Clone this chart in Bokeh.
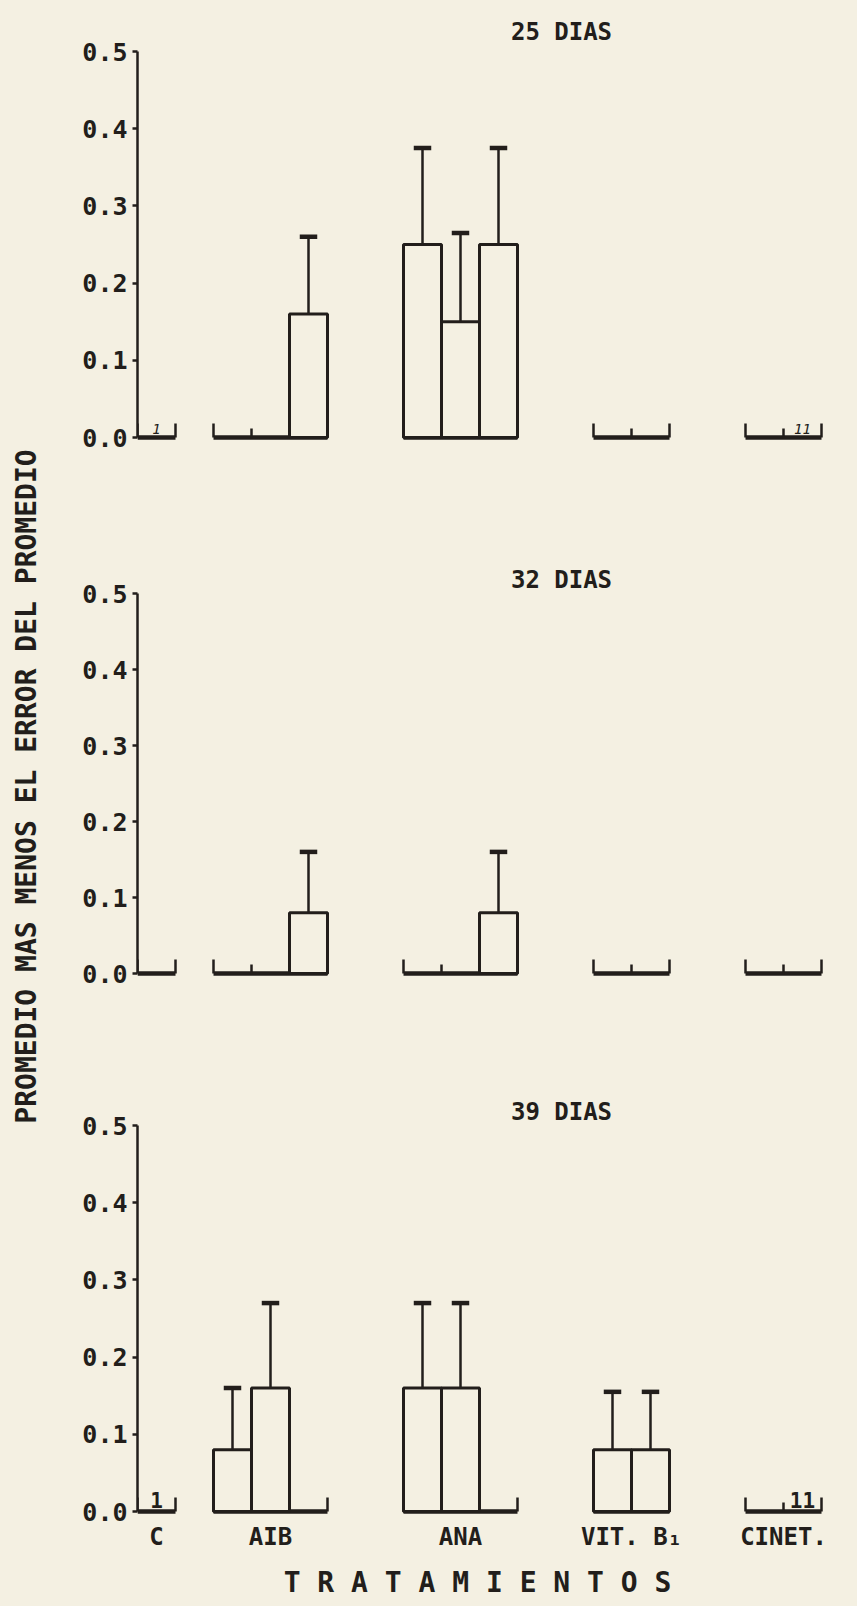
import math

from bokeh.plotting import figure
from bokeh.layouts import column, row
from bokeh.models import Range1d, FixedTicker, NumeralTickFormatter
from bokeh.core.properties import value
from bokeh.embed import file_html
from bokeh.resources import INLINE

# ---------------------------------------------------------------- data
panel_titles = ["25 DIAS", "32 DIAS", "39 DIAS"]

groups = ["C", "AIB", "ANA", "VIT. B\u2081", "CINET."]
group_size = [1, 3, 3, 2, 2]

# bar means, in order: C | AIB x3 | ANA x3 | VIT. B1 x2 | CINET. x2
mean_25 = [0.0, 0.0, 0.0, 0.16, 0.25, 0.15, 0.25, 0.0, 0.0, 0.0, 0.0]
err_25 = [0.0, 0.0, 0.0, 0.10, 0.125, 0.115, 0.125, 0.0, 0.0, 0.0, 0.0]

mean_32 = [0.0, 0.0, 0.0, 0.08, 0.0, 0.0, 0.08, 0.0, 0.0, 0.0, 0.0]
err_32 = [0.0, 0.0, 0.0, 0.08, 0.0, 0.0, 0.08, 0.0, 0.0, 0.0, 0.0]

mean_39 = [0.0, 0.08, 0.16, 0.0, 0.16, 0.16, 0.0, 0.08, 0.08, 0.0, 0.0]
err_39 = [0.0, 0.08, 0.11, 0.0, 0.11, 0.11, 0.0, 0.075, 0.075, 0.0, 0.0]

# hand-written counts beside some bars: bar index -> text
notes_25 = {0: "1", 10: "11"}
notes_32 = {}
notes_39 = {0: "1", 10: "11"}

y_ticks = [0.0, 0.1, 0.2, 0.3, 0.4, 0.5]

y_title = "PROMEDIO MAS MENOS EL ERROR DEL PROMEDIO"
x_title = "T R A T A M I E N T O S"

# ---------------------------------------------------------------- layout
PAPER = "#f4f0e2"
INK = "#221e1b"
FONT = "DejaVu Sans Mono"

W = 857
H = 1606
STRIP = 45          # strip that carries the shared value-axis title
PW = W - STRIP      # width of each panel
LEFT = 137 - STRIP  # border left of the value axis inside a panel
BAR_PX = 38.0       # width of one bar
GROUP_GAP = [0, 1, 2, 2, 2]   # empty bar slots before each group

group_start = []
pos = 0
for gap, n in zip(GROUP_GAP, group_size):
    pos += gap
    group_start.append(pos)
    pos += n

bar_left = []
for s, n in zip(group_start, group_size):
    bar_left.extend(s + k for k in range(n))


def u(px):
    """page x pixel -> bar units"""
    return (px - 137) / BAR_PX


def make_panel(title, means, errs, notes, height, zero_px, scale,
               title_y, note_style, xlabels=False):
    p = figure(width=PW, height=height, output_backend="svg",
               toolbar_location=None, x_axis_location=None,
               x_range=Range1d(0, (PW - LEFT) / BAR_PX),
               y_range=Range1d(-(height - zero_px) / scale, zero_px / scale),
               min_border_left=LEFT, min_border_right=0,
               min_border_top=0, min_border_bottom=0)
    p.background_fill_color = PAPER
    p.border_fill_color = PAPER
    p.outline_line_color = None
    p.xgrid.visible = False
    p.ygrid.visible = False

    ax = p.yaxis[0]
    ax.ticker = FixedTicker(ticks=y_ticks)
    ax.formatter = NumeralTickFormatter(format="0.0")
    ax.bounds = (0, 0.5)
    ax.axis_line_color = INK
    ax.axis_line_width = 2.5
    ax.major_tick_line_color = INK
    ax.major_tick_line_width = 2.5
    ax.major_tick_out = 5
    ax.major_tick_in = 0
    ax.minor_tick_line_color = None
    ax.major_label_standoff = 5
    ax.major_label_text_font = FONT
    ax.major_label_text_font_style = "bold"
    ax.major_label_text_font_size = "25px"
    ax.major_label_text_color = INK

    # group baselines with raised ends and small dividers
    end_h = 14 / scale
    mid_h = 9 / scale
    gx0, gx1 = [], []
    ex, ey1 = [], []
    for s, n in zip(group_start, group_size):
        gx0.append(s)
        gx1.append(s + n)
        for k in range(n + 1):
            ex.append(s + k)
            ey1.append(end_h if k in (0, n) else mid_h)
    p.segment(x0=gx0, x1=gx1, y0=0, y1=0, line_color=INK, line_width=4.5)
    p.segment(x0=ex, x1=ex, y0=0, y1=ey1, line_color=INK, line_width=2.5)

    # bars
    idx = [i for i, m in enumerate(means) if m > 0]
    left = [bar_left[i] for i in idx]
    right = [bar_left[i] + 1 for i in idx]
    top = [means[i] for i in idx]
    p.quad(left=left, right=right, bottom=0, top=top,
           fill_color=PAPER, line_color=INK, line_width=3)

    # error bars (mean + standard error)
    cx = [bar_left[i] + 0.5 for i in idx]
    hi = [means[i] + errs[i] for i in idx]
    p.segment(x0=cx, x1=cx, y0=top, y1=hi, line_color=INK, line_width=2.5)
    p.segment(x0=[c - 0.23 for c in cx], x1=[c + 0.23 for c in cx],
              y0=hi, y1=hi, line_color=INK, line_width=4.5)

    # counts
    if notes:
        nx = [bar_left[i] + 0.5 for i in notes]
        nt = list(notes.values())
        size, style = note_style
        p.text(x=nx, y=4 / scale, text=nt, text_font=value(FONT),
               text_font_size=size, text_font_style=style,
               text_color=INK, text_align="center",
               text_baseline="bottom")

    # panel title
    p.text(x=[u(561)], y=[title_y], text=[title],
           text_font=value(FONT), text_font_size="24px",
           text_font_style="bold", text_color=INK,
           text_align="center", text_baseline="middle")

    if xlabels:
        lx = [s + n / 2 for s, n in zip(group_start, group_size)]
        p.text(x=lx, y=-25 / scale, text=groups, text_font=value(FONT),
               text_font_size="24px", text_font_style="bold",
               text_color=INK, text_align="center", text_baseline="middle")
        p.text(x=[u(477)], y=[-71 / scale], text=[x_title],
               text_font=value(FONT), text_font_size="28px",
               text_font_style="bold", text_color=INK,
               text_align="center", text_baseline="middle")
    return p


p1 = make_panel(panel_titles[0], mean_25, err_25, notes_25,
                height=500, zero_px=437, scale=772, title_y=406 / 772,
                note_style=("14px", "italic"))
p2 = make_panel(panel_titles[1], mean_32, err_32, notes_32,
                height=572, zero_px=473, scale=760, title_y=394 / 760,
                note_style=("14px", "italic"))
p3 = make_panel(panel_titles[2], mean_39, err_39, notes_39,
                height=534, zero_px=439, scale=772, title_y=400 / 772,
                note_style=("21px", "bold"), xlabels=True)

# shared value-axis title, in its own strip along the left edge
strip = figure(width=STRIP, height=H, output_backend="svg",
               toolbar_location=None, x_axis_location=None,
               y_axis_location=None,
               x_range=Range1d(0, STRIP), y_range=Range1d(0, H),
               min_border=0)
strip.background_fill_color = PAPER
strip.border_fill_color = PAPER
strip.outline_line_color = None
strip.xgrid.visible = False
strip.ygrid.visible = False
strip.text(x=[26], y=[H - 786], text=[y_title], angle=math.pi / 2,
           text_font=value(FONT), text_font_size="28px",
           text_font_style="bold", text_color=INK,
           text_align="center", text_baseline="middle")

layout = row(strip, column(p1, p2, p3, spacing=0), spacing=0,
             background=PAPER)

with open("out.html", "w") as f:
    f.write(file_html(layout, INLINE, title="Tratamientos"))
